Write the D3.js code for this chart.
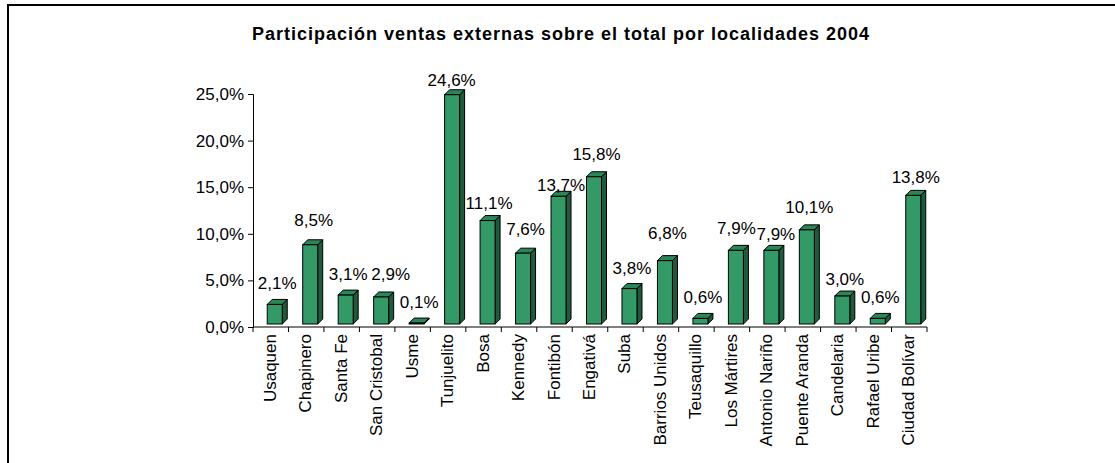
<!DOCTYPE html>
<html>
<head>
<meta charset="utf-8">
<script src="https://cdn.jsdelivr.net/npm/d3@7"></script>
<style>
  body { margin: 0; background: #fff; }
  text { font-family: Arial, "Liberation Sans", sans-serif; fill: #000; }
</style>
</head>
<body>
<svg id="chart" width="1115" height="463"></svg>
<script>
// localidades and share of external sales (%)
const localidades = ["Usaquen", "Chapinero", "Santa Fe", "San Cristobal", "Usme", "Tunjuelito", "Bosa",
    "Kennedy", "Fontibón", "Engativá", "Suba", "Barrios Unidos", "Teusaquillo", "Los Mártires",
    "Antonio Nariño", "Puente Aranda", "Candelaria", "Rafael Uribe", "Ciudad Bolívar"];
const participacion = [2.1, 8.5, 3.1, 2.9, 0.1, 24.6, 11.1, 7.6, 13.7, 15.8, 3.8, 6.8, 0.6, 7.9, 7.9, 10.1, 3.0, 0.6, 13.8];
const yTicks = [0, 5, 10, 15, 20, 25];
const title = "Participación ventas externas sobre el total por localidades 2004";

// a few data labels were dragged by hand in the original chart
const labelNudge = {
    "Chapinero": [1, -4], "San Cristobal": [7, -2], "Tunjuelito": [-3, 6], "Bosa": [-1, 3],
    "Kennedy": [0, -3], "Fontibón": [0, 10], "Engativá": [0, -2], "Barrios Unidos": [0, -7],
    "Los Mártires": [-2, -1], "Antonio Nariño": [2, 5], "Puente Aranda": [0, -2],
    "Candelaria": [0, 4], "Ciudad Bolívar": [0, 3]
};

const svg = d3.select("#chart");

// spanish number format: comma as decimal separator
const locale = d3.formatLocale({ decimal: ",", thousands: ".", grouping: [3], currency: ["", "€"] });
const pct = v => locale.format(".1f")(v) + "%";

// outer frame (runs off the right and bottom edges)
svg.append("rect")
    .attr("x", 8).attr("y", 5)
    .attr("width", 1130).attr("height", 480)
    .attr("fill", "none")
    .attr("stroke", "#000")
    .attr("stroke-width", 2);

svg.append("text")
    .attr("x", 561).attr("y", 40)
    .attr("text-anchor", "middle")
    .style("font-size", "18px")
    .style("font-weight", "bold")
    .style("letter-spacing", "1px")
    .text(title);

const x = d3.scaleBand().domain(localidades).range([253, 927]);
const y = d3.scaleLinear().domain([0, 25]).range([327, 94]);

// y axis
const yAxis = svg.append("g")
    .attr("transform", "translate(253,0)")
    .call(d3.axisLeft(y).tickValues(yTicks).tickSize(5).tickPadding(4).tickFormat(pct));
yAxis.select(".domain").attr("stroke", "#000");
yAxis.selectAll("text").style("font-size", "17px").attr("font-family", null);

// x axis baseline + tick marks at band edges
const xAxis = svg.append("g").attr("transform", "translate(0,327)");
xAxis.append("line")
    .attr("x1", 253).attr("x2", 927)
    .attr("stroke", "#000");
xAxis.selectAll("line.tick")
    .data(localidades.concat([null]))
    .enter()
    .append("line")
    .attr("class", "tick")
    .attr("x1", d => d ? x(d) : x.range()[1])
    .attr("x2", d => d ? x(d) : x.range()[1])
    .attr("y1", 0).attr("y2", 5)
    .attr("stroke", "#000");

// rotated category labels
xAxis.selectAll("text.cat")
    .data(localidades)
    .enter()
    .append("text")
    .attr("class", "cat")
    .attr("transform", d => `translate(${x(d) + x.bandwidth() / 2 + 5},7) rotate(-90)`)
    .attr("text-anchor", "end")
    .style("font-size", "17px")
    .text(d => d);

// 3D-ish columns
const barW = 15, dx = 5, dy = 5, lift = 3;
const data = localidades.map((c, i) => ({ c: c, v: participacion[i] }));

const bars = svg.selectAll("g.bar")
    .data(data)
    .enter()
    .append("g")
    .attr("class", "bar");

bars.each(function (d) {
    const g = d3.select(this);
    const x0 = x(d.c) + x.bandwidth() / 2 - 3.5;
    const x1 = x0 + barW;
    const yb = y(0) - lift;
    const yt = y(d.v) - lift;

    // side
    g.append("path")
        .attr("d", `M${x1},${yt}L${x1 + dx},${yt - dy}L${x1 + dx},${yb - dy}L${x1},${yb}Z`)
        .attr("fill", "#1e5a3b")
        .attr("stroke", "#000")
        .attr("stroke-linejoin", "round");
    // top
    g.append("path")
        .attr("d", `M${x0},${yt}L${x0 + dx},${yt - dy}L${x1 + dx},${yt - dy}L${x1},${yt}Z`)
        .attr("fill", "#2b8556")
        .attr("stroke", "#000")
        .attr("stroke-linejoin", "round");
    // front
    g.append("rect")
        .attr("x", x0).attr("y", yt)
        .attr("width", barW).attr("height", yb - yt)
        .attr("fill", "#339966")
        .attr("stroke", "#000");

    const n = labelNudge[d.c] || [0, 0];
    g.append("text")
        .attr("x", x0 + (barW + dx) / 2 + n[0])
        .attr("y", yt - 15 + n[1])
        .attr("text-anchor", "middle")
        .style("font-size", "17px")
        .text(pct(d.v));
});
</script>
</body>
</html>
